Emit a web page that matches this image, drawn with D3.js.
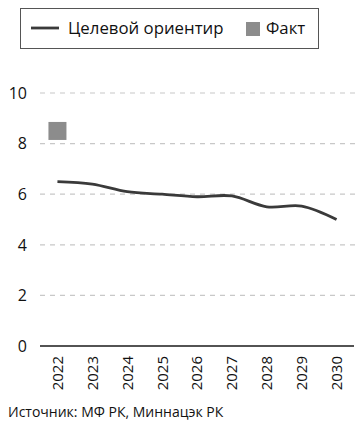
<!DOCTYPE html>
<html><head><meta charset="utf-8">
<script src="https://cdn.jsdelivr.net/npm/d3@7"></script>
<style>body{margin:0;background:#fff;} text{font-family:"Open Sans",sans-serif;fill:#111;}</style>
</head><body><svg id="c" width="362" height="426"></svg>
<script>
const years = ["2022","2023","2024","2025","2026","2027","2028","2029","2030"];
const target = [6.5, 6.4, 6.1, 6.0, 5.9, 5.93, 5.5, 5.53, 5.0];
const factYears = ["2022"];
const fact = [8.5];
const yTicks = [0, 2, 4, 6, 8, 10];
const legendLabels = ["Целевой ориентир", "Факт"];
const sourceText = "Источник: МФ РК, Миннацэк РК";

const svg = d3.select("#c");
const x = d3.scaleBand().domain(years).range([40, 354]).padding(0);
const y = d3.scaleLinear().domain([0, 10]).range([346, 93]);

// grid
svg.append("g").selectAll("line").data(yTicks.filter(d => d > 0)).join("line")
  .attr("x1", 40).attr("x2", 356).attr("y1", d => y(d)).attr("y2", d => y(d))
  .attr("stroke", "#c8c8c8").attr("stroke-width", 1.2).attr("stroke-dasharray", "5,5");

// y labels
svg.append("g").selectAll("text").data(yTicks).join("text")
  .attr("x", 27).attr("y", d => y(d)).attr("dy", "0.36em").attr("text-anchor", "end")
  .attr("font-size", 16).text(d => d);

// x axis line
svg.append("line").attr("x1", 40).attr("x2", 354).attr("y1", y(0)).attr("y2", y(0))
  .attr("stroke", "#1a1a1a").attr("stroke-width", 1.3);

// x labels
svg.append("g").selectAll("text").data(years).join("text")
  .attr("transform", d => `translate(${x(d) + x.bandwidth()/2},356) rotate(-90)`)
  .attr("dy", "0.36em").attr("text-anchor", "end").attr("font-size", 15).text(d => d);

// line
const line = d3.line().x((d, i) => x(years[i]) + x.bandwidth()/2).y(d => y(d)).curve(d3.curveCatmullRom.alpha(0.5));
svg.append("path").attr("d", line(target)).attr("fill", "none")
  .attr("stroke", "#3a3a3a").attr("stroke-width", 2.8);

// fact squares
svg.append("g").selectAll("rect").data(fact).join("rect")
  .attr("x", (d, i) => x(factYears[i]) + x.bandwidth()/2 - 9)
  .attr("y", d => y(d) - 9).attr("width", 18).attr("height", 18).attr("fill", "#8c8c8c");

// legend
const lg = svg.append("g");
lg.append("rect").attr("x", 20.5).attr("y", 8.5).attr("width", 298).attr("height", 40)
  .attr("fill", "#fff").attr("stroke", "#555").attr("stroke-width", 1);
lg.append("line").attr("x1", 31).attr("x2", 59).attr("y1", 28).attr("y2", 28)
  .attr("stroke", "#3a3a3a").attr("stroke-width", 2.8);
lg.append("text").attr("x", 68).attr("y", 28).attr("dy", "0.36em").attr("font-size", 16.8).text(legendLabels[0]);
lg.append("rect").attr("x", 246).attr("y", 22).attr("width", 14).attr("height", 14).attr("fill", "#8c8c8c");
lg.append("text").attr("x", 266).attr("y", 28).attr("dy", "0.36em").attr("font-size", 16.8).text(legendLabels[1]);

svg.append("text").attr("x", 8).attr("y", 417).attr("font-size", 14).text(sourceText);
</script></body></html>
